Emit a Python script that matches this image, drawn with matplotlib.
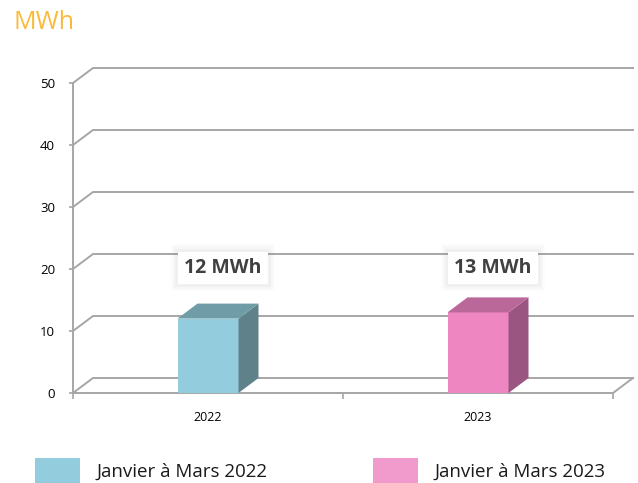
import matplotlib.pyplot as plt
from matplotlib.patches import Rectangle, Polygon, Patch

# data
categories = ['2022', '2023']
values = [12, 13]
value_labels = ['12 MWh', '13 MWh']
series_names = ['Janvier à Mars 2022', 'Janvier à Mars 2023']
front_colors = ['#93CDDD', '#EE86C2']
side_colors = ['#5F828A', '#9A5580']
top_colors = ['#6F9CA7', '#BA6799']
legend_colors = ['#93CDDD', '#F09BCB']
yticks = [0, 10, 20, 30, 40, 50]

grid_color = '#A6A6A6'
plt.rcParams['font.family'] = ['Open Sans', 'DejaVu Sans']

fig = plt.figure(figsize=(6.38, 4.83), dpi=100)
W, H = 638, 483
ax = fig.add_axes([73 / W, (H - 393) / H, 540 / W, 310 / H])
ax.set_xlim(-0.5, len(categories) - 0.5)
ax.set_ylim(0, 50)

# 3d depth offset (20 px right, 15 px up) converted to data units
dx = 20 / 540 * len(categories)
dy = 15 / 310 * 50
x0, x1 = -0.5, len(categories) - 0.5

# back wall gridlines + floor diagonals
for v in yticks:
    ax.plot([x0, x0 + dx, x1 + dx], [v, v + dy, v + dy], color=grid_color,
            lw=1.4, clip_on=False, zorder=1)
ax.plot([x1, x1 + dx], [0, dy], color=grid_color, lw=1.4, clip_on=False, zorder=1)

# bars
w = 61 / 540 * len(categories)
for i, v in enumerate(values):
    l, r = i - w / 2, i + w / 2
    ax.add_patch(Rectangle((l, 0), w, v, facecolor=front_colors[i],
                           edgecolor='none', zorder=3, clip_on=False))
    ax.add_patch(Polygon([(r, 0), (r + dx, dy), (r + dx, v + dy), (r, v)],
                         closed=True, facecolor=side_colors[i],
                         edgecolor='none', zorder=3, clip_on=False))
    ax.add_patch(Polygon([(l, v), (l + dx, v + dy), (r + dx, v + dy), (r, v)],
                         closed=True, facecolor=top_colors[i],
                         edgecolor='none', zorder=3, clip_on=False))
    # value label with soft shadow
    lx, ly = i + 0.056, 20.2
    for p, a in [(0.7, 0.02), (0.58, 0.035), (0.46, 0.05)]:
        ax.text(lx, ly, value_labels[i], fontsize=14, fontweight='bold',
                color='none', ha='center', va='center', zorder=4,
                bbox=dict(boxstyle=f'square,pad={p}', fc='#808080',
                          ec='none', alpha=a))
    ax.text(lx, ly, value_labels[i], fontsize=14, fontweight='bold',
            color='#404040', ha='center', va='center', zorder=5,
            bbox=dict(boxstyle='square,pad=0.32', fc='white', ec='none'))

# axes styling
for s in ['top', 'right']:
    ax.spines[s].set_visible(False)
for s in ['left', 'bottom']:
    ax.spines[s].set_color(grid_color)
    ax.spines[s].set_linewidth(1.4)
ax.set_yticks(yticks)
ax.tick_params(axis='y', length=3, width=1.2, color=grid_color, pad=10,
               labelsize=9.5)
ax.set_xticks(range(len(categories)))
ax.set_xticklabels(categories)
ax.tick_params(axis='x', which='major', length=0, pad=13, labelsize=9)
ax.set_xticks([x0 + k for k in range(len(categories) + 1)], minor=True)
ax.tick_params(axis='x', which='minor', length=4, width=1.2, color=grid_color)
ax.set_facecolor('none')

# unit title
fig.text(13 / W, (H - 29) / H, 'MWh', fontsize=18, color='#FBBA3A',
         ha='left', va='baseline')

# legend
handles = [Patch(facecolor=c, edgecolor='none') for c in legend_colors]
fig.legend(handles, series_names, loc='lower left',
           bbox_to_anchor=(35 / W, 0), ncol=2, frameon=False,
           fontsize=13.5, handlelength=2.4, handleheight=1.7,
           handletextpad=0.9, columnspacing=5.6, borderpad=0,
           borderaxespad=0, labelcolor='#1A1A1A')

fig.savefig('out.png', dpi=100)
